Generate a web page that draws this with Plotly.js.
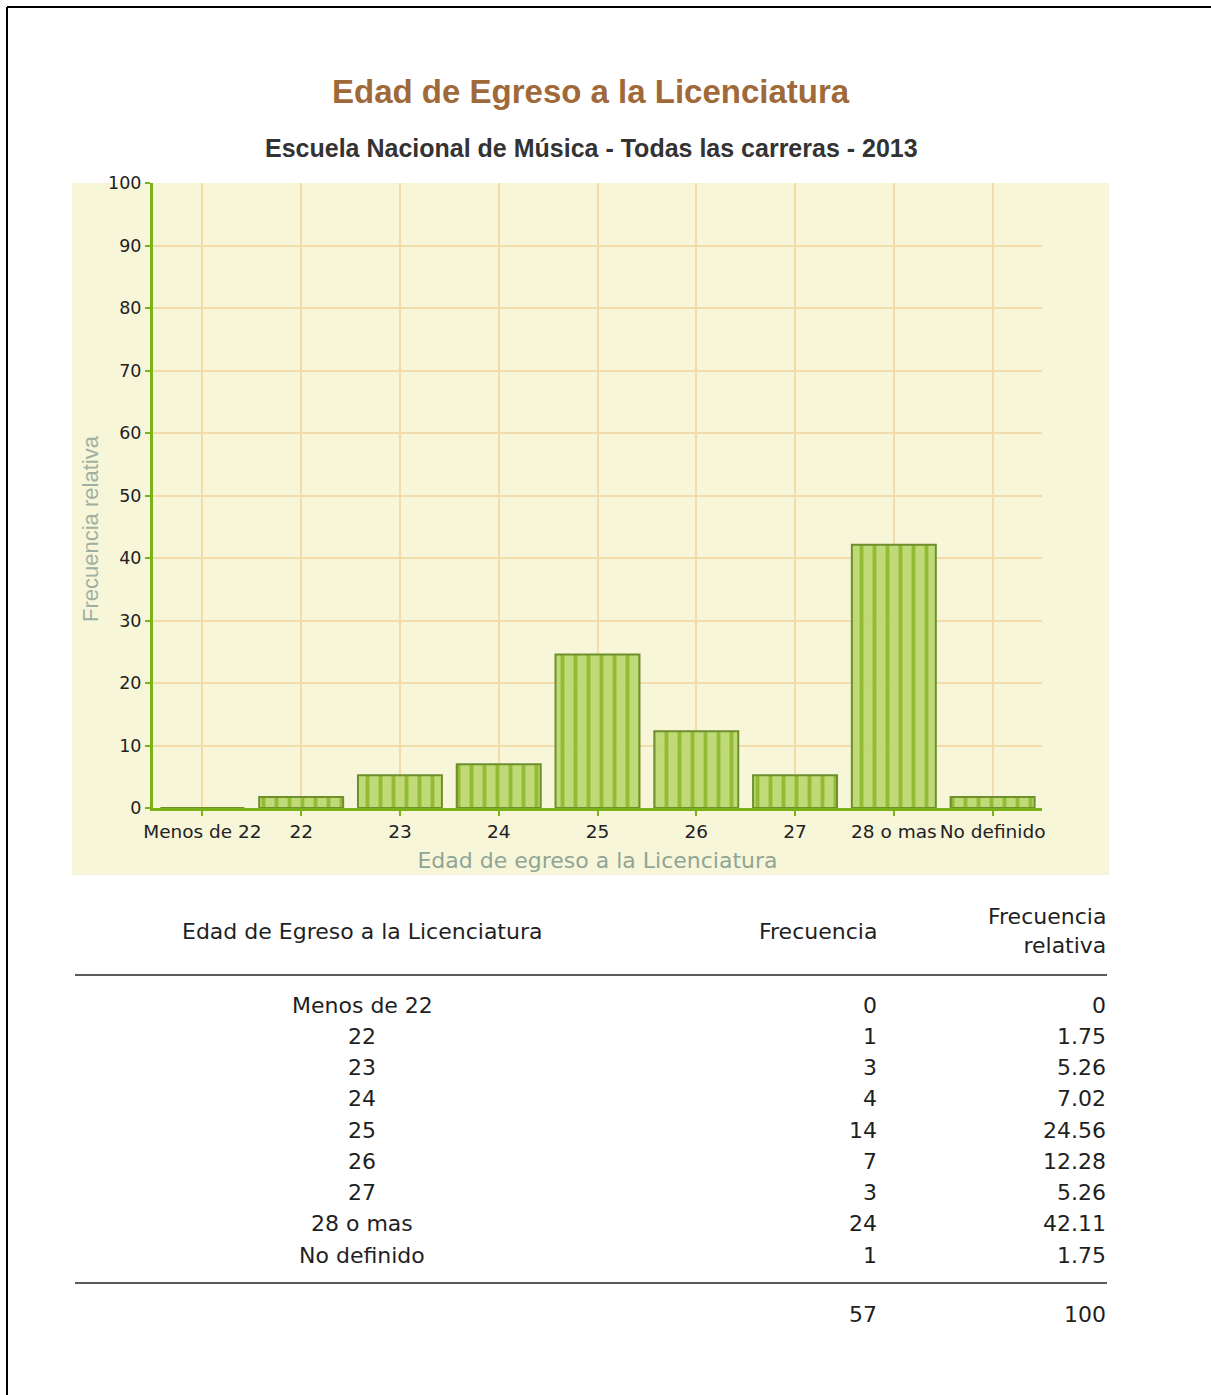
<!DOCTYPE html>
<html>
<head>
<meta charset="utf-8">
<script src="https://cdn.plot.ly/plotly-3.0.1.min.js"></script>
<style>
  html, body { margin: 0; padding: 0; background: #ffffff; }
  #chart { width: 1211px; height: 1395px; }
</style>
</head>
<body>
<div id="chart"></div>
<script>
// ---- data ----
var categories = ["Menos de 22", "22", "23", "24", "25", "26", "27", "28 o mas", "No definido"];
var frecuencia = [0, 1, 3, 4, 14, 7, 3, 24, 1];
var frecuenciaRelativa = [0, 1.75, 5.26, 7.02, 24.56, 12.28, 5.26, 42.11, 1.75];
var totalFrecuencia = 57;
var totalRelativa = 100;
var yTicks = [0, 10, 20, 30, 40, 50, 60, 70, 80, 90, 100];

var titleText = "Edad de Egreso a la Licenciatura";
var subtitleText = "Escuela Nacional de Música - Todas las carreras - 2013";
var xTitleText = "Edad de egreso a la Licenciatura";
var yTitleText = "Frecuencia relativa";
var tableHeaders = ["Edad de Egreso a la Licenciatura", "Frecuencia", "Frecuencia<br>relativa"];

// ---- layout helpers (pixel -> paper) ----
var W = 1211, H = 1395;
var L = 153, R = 1042, T = 183, B = 808;
function px(x) { return (x - L) / (R - L); }
function py(y) { return (B - y) / (B - T); }

var verdana = "Verdana, 'DejaVu Sans', sans-serif";
var arial = "Arial, 'Liberation Sans', sans-serif";
var green = "#7ab317";
var gridCol = "#f4dcaa";
var bgYellow = "#f8f6d9";

var trace = {
  type: "bar",
  x: categories,
  y: frecuenciaRelativa,
  marker: {
    color: "rgba(170,206,92,0.9)",
    line: { color: "#6d8f2c", width: 2 },
    pattern: { shape: "|", fgcolor: "#93bb35", bgcolor: "rgba(188,216,114,0.95)", size: 13, solidity: 0.3 }
  },
  hoverinfo: "x+y",
  showlegend: false
};

var annotations = [];
function ann(text, x, y, size, color, family, xanchor, extra) {
  var a = { text: text, xref: "paper", yref: "paper", x: px(x), y: py(y),
    xanchor: xanchor || "center", yanchor: "middle", showarrow: false,
    font: { size: size, color: color, family: family } };
  if (extra) for (var k in extra) a[k] = extra[k];
  annotations.push(a);
}
// titles
ann("<b>" + titleText + "</b>", 591, 91, 33, "#a0693a", arial);
ann("<b>" + subtitleText + "</b>", 591, 148, 25, "#333333", arial);
// y axis title
ann(yTitleText, 90, 529, 22, "#9fb0a3", arial, "center", { textangle: -90 });

// table header
var tFont = 22, tColor = "#1f1f1f";
ann(tableHeaders[0], 362, 931, tFont, tColor, verdana, "center");
ann(tableHeaders[1], 879, 931, tFont, tColor, verdana, "right");
ann(tableHeaders[2], 1108, 931, tFont, tColor, verdana, "right", { align: "right" });
// table rows
for (var i = 0; i < categories.length; i++) {
  var yy = 1005 + i * 31.25;
  ann(categories[i], 362, yy, tFont, tColor, verdana, "center");
  ann(String(frecuencia[i]), 879, yy, tFont, tColor, verdana, "right");
  ann(String(frecuenciaRelativa[i]), 1108, yy, tFont, tColor, verdana, "right");
}
ann(String(totalFrecuencia), 879, 1314, tFont, tColor, verdana, "right");
ann(String(totalRelativa), 1108, 1314, tFont, tColor, verdana, "right");

var shapes = [
  // yellow chart background panel
  { type: "rect", xref: "paper", yref: "paper", layer: "below",
    x0: px(72), x1: px(1109), y0: py(875), y1: py(183),
    fillcolor: bgYellow, line: { width: 0 } },
  // table rules
  { type: "line", xref: "paper", yref: "paper", x0: px(75), x1: px(1107), y0: py(975), y1: py(975),
    line: { color: "#5a5a5a", width: 2 } },
  { type: "line", xref: "paper", yref: "paper", x0: px(75), x1: px(1107), y0: py(1283), y1: py(1283),
    line: { color: "#5a5a5a", width: 2 } },
  // page frame
  { type: "line", xref: "paper", yref: "paper", x0: px(7), x1: px(1215), y0: py(7), y1: py(7),
    line: { color: "#000000", width: 2 } },
  { type: "line", xref: "paper", yref: "paper", x0: px(7), x1: px(7), y0: py(7), y1: py(1400),
    line: { color: "#000000", width: 2 } }
];

var layout = {
  width: W, height: H,
  margin: { l: L, r: W - R, t: T, b: H - B, pad: 0 },
  paper_bgcolor: "#ffffff",
  plot_bgcolor: bgYellow,
  bargap: 0.15,
  showlegend: false,
  xaxis: {
    type: "category",
    showgrid: true, gridcolor: gridCol, gridwidth: 2,
    showline: true, linecolor: green, linewidth: 3,
    ticks: "outside", ticklen: 5, tickwidth: 2, tickcolor: green,
    tickfont: { family: verdana, size: 18.5, color: "#222222" },
    title: { text: xTitleText, standoff: 12, font: { family: verdana, size: 22, color: "#8fa596" } },
    automargin: false, zeroline: false, fixedrange: true
  },
  yaxis: {
    range: [0, 100],
    tickvals: yTicks,
    showgrid: true, gridcolor: gridCol, gridwidth: 2,
    showline: true, linecolor: green, linewidth: 3,
    ticks: "outside", ticklen: 5, tickwidth: 2, tickcolor: green,
    tickfont: { family: verdana, size: 17.5, color: "#222222" },
    automargin: false, zeroline: false, fixedrange: true
  },
  annotations: annotations,
  shapes: shapes
};

Plotly.newPlot("chart", [trace], layout, { displayModeBar: false, staticPlot: true });
</script>
</body>
</html>
